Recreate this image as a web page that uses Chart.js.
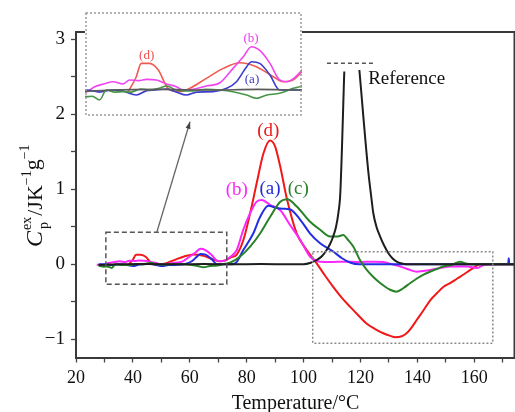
<!DOCTYPE html>
<html><head><meta charset="utf-8">
<script src="https://cdn.jsdelivr.net/npm/chart.js@4.4.1/dist/chart.umd.min.js"></script>
<style>
html,body{margin:0;padding:0;background:#fff;}
#wrap{position:relative;width:515px;height:412px;overflow:hidden;background:#fff;}
#main{position:absolute;left:0;top:0;}
#inset{position:absolute;left:85px;top:12px;}
</style></head><body>
<div id="wrap"><canvas id="main" width="515" height="412"></canvas><canvas id="inset" width="217" height="104"></canvas></div>
<script>
// ---- data (Temperature °C, excess Cp J K^-1 g^-1) ----
const tempA = [28,30,32.5,35,37.3,40.1,42.2,44,46.3,48.3,50.4,52.5,55.9,58.7,60.7,62.8,63.8,65.5,67.6,69.6,71.7,74.1,75.9,78.8,82.3,84.7,87.6,90.6,92.7,95.3,98.9,102.3,105.8,110.4,113.5,116.5,119.5,130,140,150,160,170,171.9,172.1,172.3,174.3];
const cpA   = [0,0,-0.01,0,-0.005,-0.024,-0.003,0,0.005,-0.01,-0.024,-0.01,-0.008,0.008,0.04,0.112,0.136,0.128,0.072,0,0,0,0.01,0.19,0.41,0.63,0.78,0.75,0.74,0.73,0.59,0.41,0.28,0.17,0.08,0.02,0,0,0,0,0,0,0,0.08,0,0];

const tempB = [27.3,29.8,31.5,33.5,35.3,37.3,38.7,40.5,42.2,44.2,46.3,48.3,49.7,51.8,54.5,57.3,60,62.1,63.8,65.5,67.6,69.6,71,72.7,74.3,76.5,78.8,81.2,83.5,85.3,88.3,91.8,95.3,98.9,102.3,105.8,109.4,114.5,119.5,124.5,128.1,131,134,137,139.8,142,144.5,148,151.6,154.5,157.4,161,163.3,168,174.3];
const cpB   = [-0.005,-0.008,0.016,0.03,0.04,0.029,0.048,0.045,0.051,0.048,0.029,0.016,0,0.003,0.019,0.035,0.104,0.16,0.208,0.19,0.128,0.048,0.04,0.06,0.1,0.19,0.46,0.68,0.835,0.857,0.79,0.72,0.52,0.32,0.1,0.035,0.03,0.035,0.03,0.035,0.03,0,-0.03,-0.07,-0.1,-0.09,-0.076,-0.05,-0.03,-0.03,-0.03,-0.05,-0.01,0,0];

const tempC = [28,29.8,31,32.5,33.9,35.5,37.3,39,41,43,45,46.3,48.3,51,54.5,57.3,60,62.8,64.8,67,69.6,72.4,74.1,77.6,81.2,84.7,88.2,91.8,94.2,97.6,102.2,105.8,109.3,112,113.9,115.5,117.5,119.8,122.2,124.5,126.9,130.4,132.7,135,137.5,139.8,142,144.4,147,149.1,152,155,157,159,165,174.3];
const cpC   = [-0.02,-0.032,-0.03,-0.048,0,-0.01,-0.008,-0.01,0.005,0,0.01,0.019,0,-0.005,0.003,0,-0.008,-0.024,-0.04,-0.024,-0.016,0.008,0.02,0.1,0.235,0.41,0.63,0.835,0.867,0.77,0.57,0.46,0.37,0.37,0.39,0.33,0.235,0.057,-0.076,-0.17,-0.25,-0.34,-0.365,-0.32,-0.25,-0.19,-0.14,-0.1,-0.06,-0.03,-0.01,0.035,0.01,0,0,0];

const tempD = [38.4,40,41.1,42.8,44.6,46.6,49,51.1,54.5,58,61.4,64.8,68.3,70.3,72.5,74.3,76.5,78.8,81.2,83.5,85.9,88.2,90,91.8,94.2,97.6,101.1,104.6,107.5,110.4,113.3,116.3,119.2,122.1,125,128,130.5,132.2,134.5,136.2,138,139.8,142.2,144.5,147,149.2,151.5,154,156.5,158.6,162.2,168,174.3];
const cpD   = [-0.008,0.06,0.128,0.128,0.096,0.008,-0.008,0.008,0.056,0.104,0.131,0.112,0.064,0.04,0.05,0.09,0.13,0.32,0.68,1.08,1.48,1.65,1.57,1.3,0.86,0.41,0.19,0.013,-0.15,-0.3,-0.44,-0.565,-0.68,-0.79,-0.86,-0.92,-0.955,-0.973,-0.96,-0.92,-0.84,-0.74,-0.61,-0.48,-0.38,-0.3,-0.25,-0.19,-0.13,-0.076,0,0,0];

const tempRef = [27.9,35,45,55,65,75,85,95,100,102.5,104.6,106.5,108.1,109.3,110.4,111.4,112.2,112.9,114.3,117,119.6,122.7,123.9,124.5,125.6,126.9,128.3,129.8,131.2,132.7,134.5,136.2,145,155,165,174.3];
const cpRef   = [-0.01,0,0.003,0,0.003,0,0.003,0,0,0.02,0.057,0.11,0.19,0.27,0.37,0.5,0.68,0.95,2.57,null,2.59,1.25,0.86,0.68,0.5,0.37,0.25,0.147,0.08,0.035,0.01,0,0,0,0,0];

const xTicks  = [20,30,40,50,60,70,80,90,100,110,120,130,140,150,160,170];
const xLabels = [20,40,60,80,100,120,140,160];
const yTicks  = [-1,-0.5,0,0.5,1,1.5,2,2.5,3];
const yLabels = [-1,0,1,2,3];

// annotation positions (data coords)
const seriesLabels = [
  {text:'(d)', x:87.6, y:1.78, color:'rgb(235,25,25)'},
  {text:'(b)', x:76.5, y:0.99, color:'rgb(250,40,250)'},
  {text:'(a)', x:88.2, y:1.0,  color:'rgb(35,45,215)'},
  {text:'(c)', x:98.1, y:1.0,  color:'rgb(40,130,40)'}
];
const insetLabels = [
  {text:'(d)', x:42.2, y:0.165, color:'rgb(240,80,80)'},
  {text:'(b)', x:63.7, y:0.249, color:'rgb(240,60,240)'},
  {text:'(a)', x:63.9, y:0.048, color:'rgb(60,60,200)'}
];

const pts = (t, v) => t.map((x, i) => ({x: x, y: v[i]}));
const SERIF = '"Liberation Serif", "DejaVu Serif", serif';

const mainColors = {a:'rgb(35,45,225)', b:'rgb(250,40,250)', c:'rgb(40,130,40)', d:'rgb(240,25,25)', r:'rgb(30,30,30)'};
const insetColors = {a:'rgb(60,60,205)', b:'rgb(240,70,240)', c:'rgb(70,150,70)', d:'rgb(240,90,80)', r:'rgb(90,90,90)'};

function makeDatasets(col, w){
  return [
    {label:'Reference', data:pts(tempRef,cpRef), borderColor:col.r, borderWidth:w, spanGaps:false},
    {label:'(c)', data:pts(tempC,cpC), borderColor:col.c, borderWidth:w},
    {label:'(a)', data:pts(tempA,cpA), borderColor:col.a, borderWidth:w},
    {label:'(b)', data:pts(tempB,cpB), borderColor:col.b, borderWidth:w},
    {label:'(d)', data:pts(tempD,cpD), borderColor:col.d, borderWidth:w}
  ].map(d => Object.assign(d, {pointRadius:0, fill:false, cubicInterpolationMode:'monotone'}));
}

const overlay = {
  id:'overlay',
  afterDatasetsDraw(chart){
    const {ctx, chartArea:ca, scales:{x, y}} = chart;
    const X = v => x.getPixelForValue(v), Y = v => y.getPixelForValue(v);
    ctx.save();
    // frame top / right
    ctx.strokeStyle = '#3a3a3a'; ctx.lineWidth = 2;
    ctx.beginPath(); ctx.moveTo(ca.left, ca.top); ctx.lineTo(ca.right, ca.top); ctx.stroke();
    ctx.beginPath(); ctx.moveTo(ca.right - 0.5, ca.top); ctx.lineTo(ca.right - 0.5, ca.bottom); ctx.stroke();
    // dashed zoom box
    ctx.strokeStyle = '#555'; ctx.lineWidth = 1.5; ctx.setLineDash([5,3]);
    ctx.strokeRect(X(30.5), Y(0.427), X(73.0) - X(30.5), Y(-0.267) - Y(0.427));
    // reference truncation dash
    ctx.setLineDash([4,3]);
    ctx.beginPath(); ctx.moveTo(X(108.2), Y(2.68)); ctx.lineTo(X(124.4), Y(2.68)); ctx.stroke();
    // dotted box
    ctx.strokeStyle = '#8a8a8a'; ctx.setLineDash([2,2]);
    ctx.strokeRect(X(103.2), Y(0.168), X(166.5) - X(103.2), Y(-1.052) - Y(0.168));
    ctx.setLineDash([]);
    // arrow
    const x0 = X(48.4), y0 = Y(0.427), x1 = X(60.07), y1 = Y(1.90);
    ctx.strokeStyle = '#666'; ctx.fillStyle = '#444'; ctx.lineWidth = 1.3;
    ctx.beginPath(); ctx.moveTo(x0, y0); ctx.lineTo(x1, y1); ctx.stroke();
    const ang = Math.atan2(y1 - y0, x1 - x0);
    ctx.beginPath(); ctx.moveTo(x1, y1);
    ctx.lineTo(x1 - 7*Math.cos(ang) + 2.5*Math.sin(ang), y1 - 7*Math.sin(ang) - 2.5*Math.cos(ang));
    ctx.lineTo(x1 - 7*Math.cos(ang) - 2.5*Math.sin(ang), y1 - 7*Math.sin(ang) + 2.5*Math.cos(ang));
    ctx.closePath(); ctx.fill();
    // series labels
    ctx.font = '19px ' + SERIF; ctx.textAlign = 'center'; ctx.textBaseline = 'middle';
    seriesLabels.forEach(l => { ctx.fillStyle = l.color; ctx.fillText(l.text, X(l.x), Y(l.y)); });
    ctx.fillStyle = '#111'; ctx.textAlign = 'left';
    ctx.fillText('Reference', X(122.7), Y(2.467));
    // y-axis title
    ctx.translate(42, 247); ctx.rotate(-Math.PI/2);
    ctx.textBaseline = 'alphabetic'; ctx.textAlign = 'left'; ctx.fillStyle = '#111';
    let px = 0;
    ctx.font = 'italic 24px ' + SERIF; ctx.fillText('C', px, 0); px += ctx.measureText('C').width + 1;
    ctx.font = '14px ' + SERIF; ctx.fillText('ex', px, -11); ctx.fillText('p', px + 1, 6);
    px += ctx.measureText('ex').width + 1;
    ctx.font = '22px ' + SERIF; ctx.fillText('/JK', px, 0); px += ctx.measureText('/JK').width;
    ctx.font = '14px ' + SERIF; ctx.fillText('\u22121', px, -11); px += ctx.measureText('\u22121').width;
    ctx.font = '22px ' + SERIF; ctx.fillText('g', px, -3); px += ctx.measureText('g').width;
    ctx.font = '14px ' + SERIF; ctx.fillText('\u22121', px, -13);
    ctx.restore();
  }
};

new Chart(document.getElementById('main'), {
  type:'line',
  data:{datasets: makeDatasets(mainColors, 2)},
  options:{
    responsive:false, animation:false, devicePixelRatio:1,
    layout:{padding:{top:32, right:0, left:0, bottom:0}},
    plugins:{legend:{display:false}, tooltip:{enabled:false}},
    scales:{
      x:{type:'linear', min:20, max:174.3,
        afterBuildTicks: s => { s.ticks = xTicks.map(v => ({value:v})); },
        afterFit: s => { s.height = 54.5; },
        ticks:{callback: v => xLabels.includes(v) ? String(v) : '', autoSkip:false, maxRotation:0,
               font:{family:SERIF, size:18}, color:'#111', padding:5},
        grid:{drawOnChartArea:false, tickLength:5, tickColor:'#444', tickWidth:1.3},
        border:{display:true, color:'#3a3a3a', width:2},
        title:{display:true, text:'Temperature/\u00B0C', font:{family:SERIF, size:20, lineHeight:1}, color:'#111', padding:{top:0, bottom:-2}}
      },
      y:{type:'linear', min:-1.243, max:3.097,
        afterBuildTicks: s => { s.ticks = yTicks.map(v => ({value:v})); },
        afterFit: s => { s.width = 76; },
        ticks:{callback: v => yLabels.includes(v) ? (v < 0 ? '\u2212' + Math.abs(v) : String(v)) : '', autoSkip:false,
               font:{family:SERIF, size:19}, color:'#111', padding:6},
        grid:{drawOnChartArea:false, tickLength:5, tickColor:'#444', tickWidth:1.3},
        border:{display:true, color:'#3a3a3a', width:2}
      }
    }
  },
  plugins:[overlay]
});

const insetOverlay = {
  id:'insetOverlay',
  beforeDraw(chart){
    const c = chart.ctx; c.save(); c.fillStyle = '#fff'; c.fillRect(0, 0, chart.width, chart.height); c.restore();
  },
  afterDraw(chart){
    const {ctx, scales:{x, y}} = chart;
    ctx.save();
    ctx.font = '13px ' + SERIF; ctx.textAlign = 'center'; ctx.textBaseline = 'middle';
    insetLabels.forEach(l => { ctx.fillStyle = l.color; ctx.fillText(l.text, x.getPixelForValue(l.x), y.getPixelForValue(l.y)); });
    ctx.strokeStyle = '#9a9a9a'; ctx.lineWidth = 1.5; ctx.setLineDash([2,2]);
    ctx.strokeRect(1, 1, chart.width - 2, chart.height - 2);
    ctx.restore();
  }
};

new Chart(document.getElementById('inset'), {
  type:'line',
  data:{datasets: makeDatasets(insetColors, 1.6)},
  options:{
    responsive:false, animation:false, devicePixelRatio:1,
    layout:{padding:0},
    plugins:{legend:{display:false}, tooltip:{enabled:false}},
    scales:{
      x:{type:'linear', min:29.5, max:74.2, display:false},
      y:{type:'linear', min:-0.125, max:0.375, display:false}
    }
  },
  plugins:[insetOverlay]
});
</script>
</body></html>
